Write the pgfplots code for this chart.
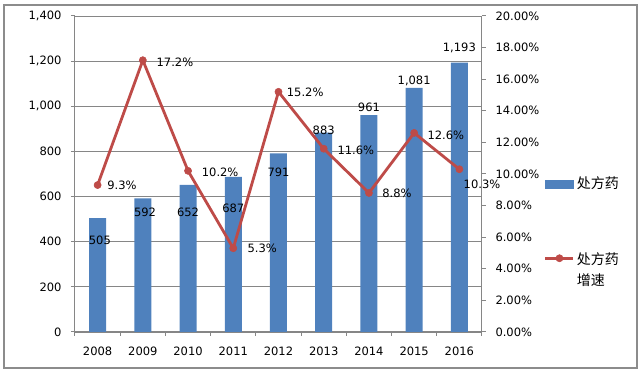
\documentclass[border=0pt]{standalone}
\usepackage{fontspec}
\setmainfont{DejaVu Sans}
\newfontfamily\cjk{Noto Sans CJK SC}
\usepackage{pgfplots}
\pgfplotsset{compat=1.18}
\definecolor{barblue}{HTML}{4F81BD}
\definecolor{linered}{HTML}{BE4B48}
\definecolor{axgray}{HTML}{868686}
\definecolor{framegray}{HTML}{8C8C8C}
\pgfplotsset{
  linelegend/.style={legend image code/.code={\draw[##1, mark repeat=2, mark phase=2] plot coordinates {(0pt,0pt) (14pt,0pt) (28pt,0pt)};}},
  barlegend/.style={legend image code/.code={\fill[barblue] (0pt,-4pt) rectangle (28pt,4pt);}},
}
\begin{document}
\begin{tikzpicture}[x=1pt,y=1pt]
\useasboundingbox (-75,-39) rectangle (568,332);
\draw[framegray, line width=1.2pt] (-71,-36) rectangle (562,327);
\begin{axis}[
  scale only axis, width=407pt, height=316pt,
  at={(0,0)}, anchor=south west,
  xmin=-0.5, xmax=8.5, ymin=0, ymax=1400,
  ytick={0,200,...,1400},
  xtick={-0.5,0.5,1.5,2.5,3.5,4.5,5.5,6.5,7.5,8.5},
  xticklabels={},
  extra x ticks={0,1,2,3,4,5,6,7,8},
  extra x tick labels={2008,2009,2010,2011,2012,2013,2014,2015,2016},
  extra x tick style={major tick length=0pt, grid=none},
  axis x line*=bottom, axis y line*=left,
  axis line style={axgray, line width=1pt, -},
  tick style={axgray, line width=1pt},
  major tick length=4pt, tick align=outside,
  ymajorgrids, grid style={axgray, line width=0.8pt},
  /pgf/number format/assume math mode=true,
  /pgf/number format/1000 sep={,},
  tick label style={font=\fontsize{11.5}{13}\selectfont, text=black},
  yticklabel style={xshift=-6pt},
  xticklabel style={yshift=-11pt},
  ybar, bar width=17pt,
  clip=false,
]
\addplot[fill=barblue, draw=none] coordinates {
(0,505) (1,592) (2,652) (3,687) (4,791) (5,883) (6,961) (7,1081) (8,1193)};
\begin{scope}[font=\fontsize{11.5}{13}\selectfont]
\node at (axis cs:0.05,408) {505};
\node at (axis cs:1.05,532) {592};
\node at (axis cs:2,532) {652};
\node at (axis cs:3,549) {687};
\node at (axis cs:4,709) {791};
\node at (axis cs:5,895) {883};
\node at (axis cs:6,997) {961};
\node at (axis cs:7,1112) {1,081};
\node at (axis cs:8,1258) {1,193};
\end{scope}
\end{axis}
\begin{axis}[
  scale only axis, width=407pt, height=316pt,
  at={(0,0)}, anchor=south west,
  xmin=-0.5, xmax=8.5, ymin=0, ymax=20,
  axis x line=none, axis y line*=right,
  ytick={0,2,...,20},
  yticklabel={\pgfmathprintnumber[fixed,fixed zerofill,precision=2]{\tick}\%},
  axis line style={axgray, line width=1pt, -},
  tick style={axgray, line width=1pt},
  major tick length=4pt, tick align=outside,
  /pgf/number format/assume math mode=true,
  tick label style={font=\fontsize{11.5}{13}\selectfont, text=black},
  yticklabel style={xshift=6pt},
  clip=false,
  legend style={at={(rel axis cs:1.152,0.497)}, anchor=north west,
    draw=none, fill=none, row sep=56pt, inner sep=0pt,
    font=\cjk\fontsize{14}{20}\selectfont},
  legend cell align=left,
]
\addlegendimage{barlegend}
\addlegendentry{处方药}
\addplot[linered, line width=2.8pt, mark=*, mark size=3.6pt, mark options={solid, line width=0.5pt}, linelegend]
coordinates {(0,9.3) (1,17.2) (2,10.2) (3,5.3) (4,15.2) (5,11.6) (6,8.8) (7,12.6) (8,10.3)};
\addlegendentry{\begin{tabular}[t]{@{}l@{}}处方药\\[1pt]增速\end{tabular}}
\begin{scope}[font=\fontsize{11.5}{13}\selectfont]
\node at (axis cs:0.54,9.3) {9.3\%};
\node at (axis cs:1.71,17.09) {17.2\%};
\node at (axis cs:2.71,10.13) {10.2\%};
\node at (axis cs:3.64,5.32) {5.3\%};
\node at (axis cs:4.59,15.19) {15.2\%};
\node at (axis cs:5.71,11.52) {11.6\%};
\node at (axis cs:6.62,8.8) {8.8\%};
\node at (axis cs:7.70,12.47) {12.6\%};
\node at (axis cs:8.5,9.37) {10.3\%};
\end{scope}
\end{axis}
\end{tikzpicture}
\end{document}
